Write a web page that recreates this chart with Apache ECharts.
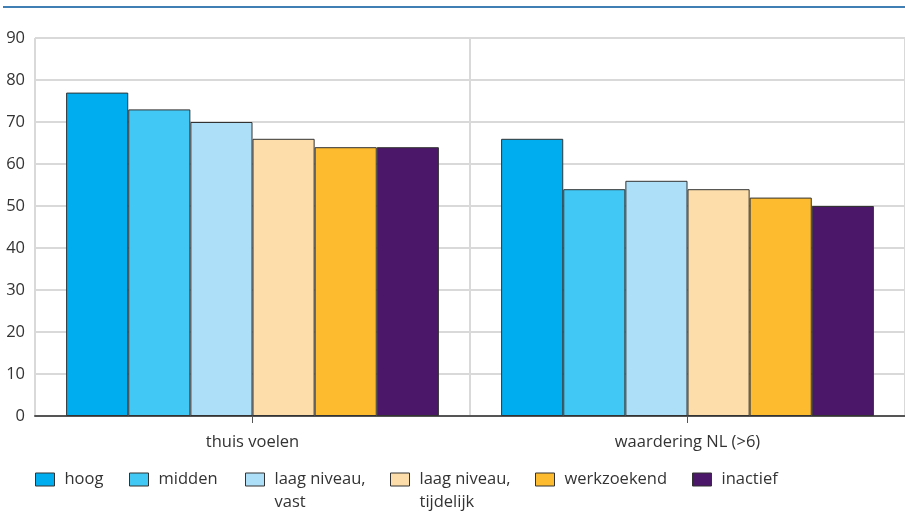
<!DOCTYPE html>
<html>
<head>
<meta charset="utf-8">
<script src="https://cdn.jsdelivr.net/npm/echarts@6/dist/echarts.min.js"></script>
<style>html,body{margin:0;padding:0;background:#fff}#c{width:905px;height:512px}</style>
</head>
<body>
<div id="c"></div>
<script>
var categories = ['thuis voelen', 'waardering NL (>6)'];
var seriesNames = ['hoog', 'midden', 'laag niveau,\nvast', 'laag niveau,\ntijdelijk', 'werkzoekend', 'inactief'];
var hoog = [77, 66];
var midden = [73, 54];
var laagVast = [70, 56];
var laagTijdelijk = [66, 54];
var werkzoekend = [64, 52];
var inactief = [64, 50];
var yTicks = [0, 10, 20, 30, 40, 50, 60, 70, 80, 90];

var values = [hoog, midden, laagVast, laagTijdelijk, werkzoekend, inactief];
var colors = ['#00aeef', '#41c8f4', '#addff8', '#fddeaa', '#fdbb30', '#4b1769'];
var legendLeft = [35, 129, 245, 390, 535, 692];
var FONT = 'Open Sans';
var FS = 16.5;
var LH = 23;

var legends = seriesNames.map(function (n, i) {
  var two = n.indexOf('\n') >= 0;
  return {
    data: [n],
    left: legendLeft[i],
    top: two ? 473 - (1.5 * LH - 6.5) : 473 - (0.5 * LH - 6.5),
    padding: 0,
    itemWidth: 19,
    itemHeight: 13,
    icon: 'rect',
    itemStyle: { borderColor: '#333', borderWidth: 1 },
    formatter: function (name) { return two ? '\n' + name : name; },
    textStyle: {
      fontFamily: FONT, fontSize: FS, color: '#333', lineHeight: LH,
      padding: [0, 0, 0, 5]
    }
  };
});

var chart = echarts.init(document.getElementById('c'), null, { renderer: 'canvas' });
chart.setOption({
  animation: false,
  backgroundColor: '#fff',
  graphic: [{
    type: 'line', shape: { x1: 3, y1: 7, x2: 905, y2: 7 },
    style: { stroke: '#3f7fb3', lineWidth: 2 }
  }],
  grid: { left: 35, right: 0, top: 38, bottom: 96, containLabel: false },
  legend: legends,
  xAxis: {
    type: 'category',
    data: categories,
    axisLine: { lineStyle: { color: '#555', width: 2 } },
    axisTick: { show: true, alignWithLabel: true, length: 7, lineStyle: { color: '#555' } },
    axisLabel: { fontFamily: FONT, fontSize: FS, color: '#333', margin: 18 },
    splitLine: { show: true, lineStyle: { color: '#d9d9d9', width: 2 } }
  },
  yAxis: {
    type: 'value', min: 0, max: 90, interval: 10,
    axisLine: { show: false },
    axisTick: { show: false },
    axisLabel: {
      fontFamily: FONT, fontSize: FS, color: '#333', margin: 10,
      formatter: function (v) { return yTicks.indexOf(v) >= 0 ? String(v) : ''; }
    },
    splitLine: { lineStyle: { color: '#d9d9d9', width: 2 } }
  },
  series: seriesNames.map(function (n, i) {
    return {
      name: n, type: 'bar', data: values[i],
      barGap: '0%', barCategoryGap: '14.3%',
      itemStyle: { color: colors[i], borderColor: '#333', borderWidth: 1 }
    };
  })
});
</script>
</body>
</html>
